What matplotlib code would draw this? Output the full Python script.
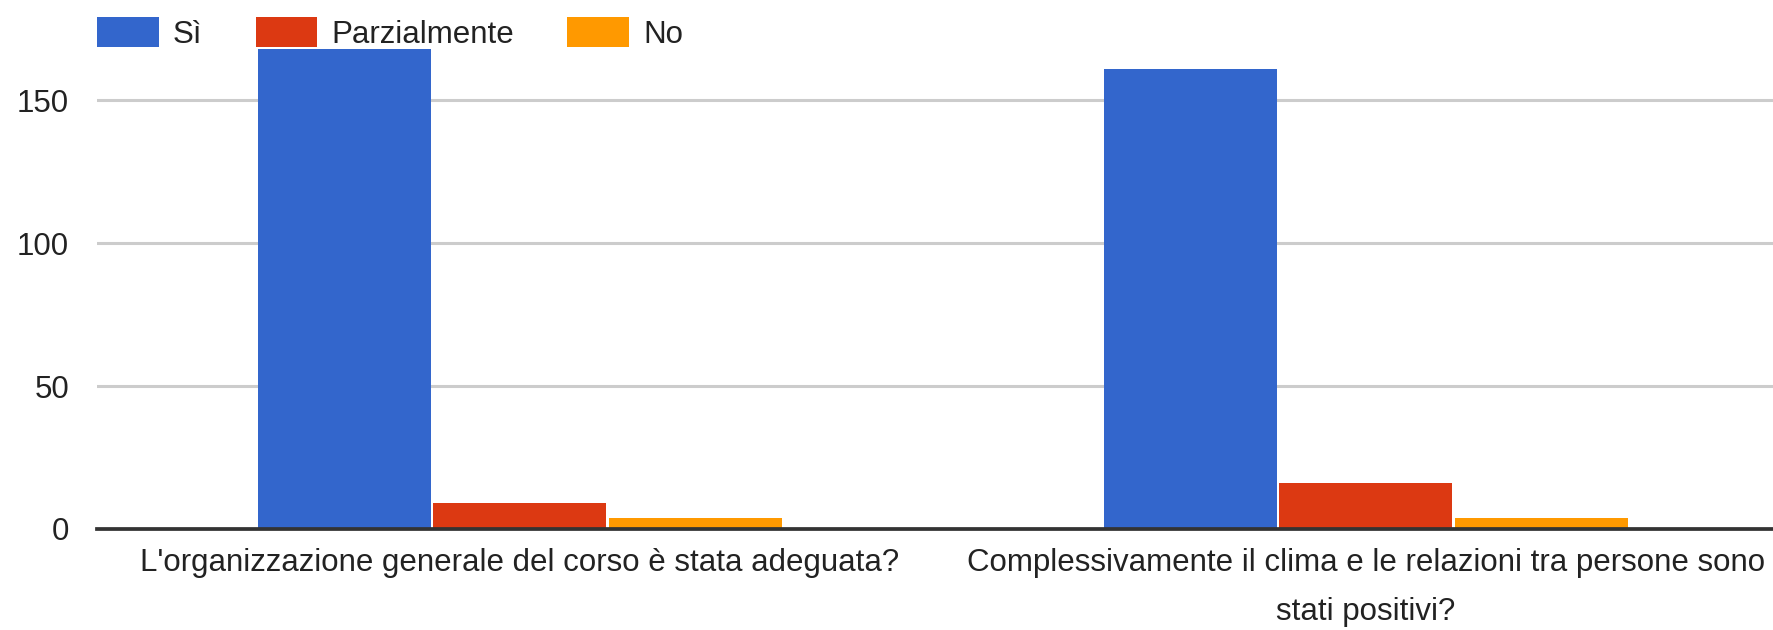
import matplotlib
matplotlib.use("Agg")
import matplotlib.pyplot as plt
import numpy as np

# risposte al questionario
domande = ["L'organizzazione generale del corso è stata adeguata?",
           "Complessivamente il clima e le relazioni tra persone sono\nstati positivi?"]
serie = ["Sì", "Parzialmente", "No"]
si = [168, 161]
parzialmente = [9, 16]
no = [4, 4]
colori = ["#3366CC", "#DC3912", "#FF9900"]
yticks = [0, 50, 100, 150]

plt.rcParams["font.family"] = ["Liberation Sans", "DejaVu Sans"]

W, H = 1774, 630
fig = plt.figure(figsize=(W / 100, H / 100), dpi=100)
ax = fig.add_axes([97 / W, (H - 529) / H, 1 - 97 / W, 509 / H])

x = np.arange(len(domande))
step = 0.2075
width = 0.2045
for i, (vals, nome) in enumerate(zip([si, parzialmente, no], serie)):
    ax.bar(x + (i - 1) * step, vals, width, color=colori[i], label=nome, zorder=3)

ax.set_xlim(-0.5, 1.4823)
ax.set_ylim(0, 178)
ax.set_yticks(yticks)
ax.set_xticks(x)
ax.set_xticklabels(domande, fontsize=22.5, color="#222222", linespacing=1.8)
ax.tick_params(axis="y", labelsize=22.5, labelcolor="#222222", length=0, pad=20)
ax.tick_params(axis="x", length=0, pad=14)
ax.grid(axis="y", color="#cccccc", linewidth=2.2, zorder=0)
for s in ["top", "right", "left"]:
    ax.spines[s].set_visible(False)
ax.spines["bottom"].set_color("#333333")
ax.spines["bottom"].set_linewidth(2.7)
ax.spines["bottom"].set_zorder(4)

leg = fig.legend(loc="center left", bbox_to_anchor=(97 / W, 1 - 33.5 / H),
                 ncol=3, frameon=False, fontsize=22.5, borderpad=0, borderaxespad=0,
                 handlelength=1.98, handleheight=1.06, handletextpad=0.45,
                 columnspacing=1.7)
for t in leg.get_texts():
    t.set_color("#222222")

fig.savefig("out.png", dpi=100)
